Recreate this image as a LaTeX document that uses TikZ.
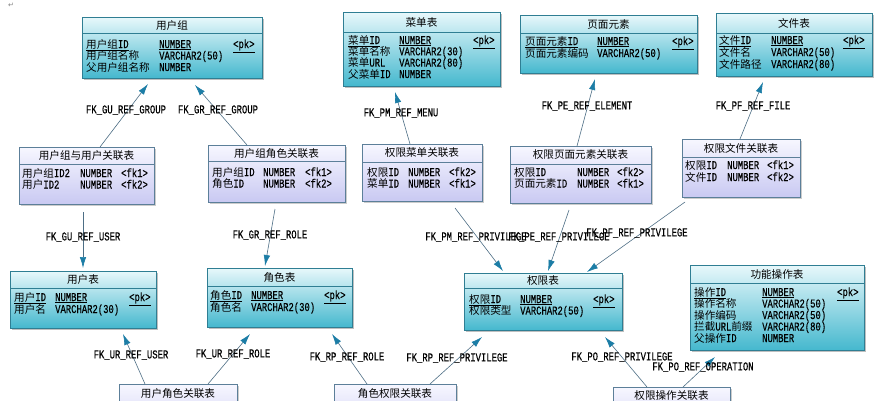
\documentclass[tikz,border=0pt]{standalone}
\usepackage{fontspec}
\setmainfont[FakeStretch=0.74,FakeBold=0.4]{Liberation Mono}
\newfontfamily\zhf[Scale=0.883]{Noto Sans CJK SC}
\newfontfamily\symf{DejaVu Sans}
\newcommand\zh[1]{{\zhf #1}}
\usetikzlibrary{arrows.meta,calc,shadows}
\definecolor{entTop}{HTML}{E8F8FB}
\definecolor{entBot}{HTML}{45B8CE}
\definecolor{entBorder}{HTML}{2F7E93}
\definecolor{ascTop}{HTML}{F7F7FF}
\definecolor{ascBot}{HTML}{C9C9F2}
\definecolor{ascBorder}{HTML}{5C7F99}
\definecolor{lineC}{HTML}{4D6E85}
\definecolor{arrowC}{HTML}{1C7DA6}
\tikzset{
  x=1pt, y=-1pt,
  ent/.style={rectangle, draw=entBorder, line width=0.8pt, top color=entTop, bottom color=entBot,
    inner sep=0pt, outer sep=0pt,
    drop shadow={shadow xshift=1.5pt, shadow yshift=-1.5pt, fill=black, opacity=0.25}},
  ent line/.style={draw=entBorder, line width=0.6pt},
  asc/.style={rectangle, draw=ascBorder, line width=0.8pt, top color=ascTop, bottom color=ascBot,
    inner sep=0pt, outer sep=0pt,
    drop shadow={shadow xshift=1.5pt, shadow yshift=-1.5pt, fill=black, opacity=0.2}},
  asc line/.style={draw=ascBorder, line width=0.6pt},
  ttl/.style={inner sep=0pt, font=\fontsize{12}{12}\selectfont\zhf},
  rowtxt/.style={inner sep=0pt, anchor=base west, font=\fontsize{12}{12}\selectfont},
  lbl/.style={inner sep=0pt, font=\fontsize{12}{12}\selectfont},
  fk/.style={draw=lineC, line width=0.6pt, -{Latex[length=11pt,width=6.5pt,color=arrowC]}},
}
% table box: style, name, x1, y1, x2, y2, header-line y
\newcommand\tbl[7]{%
  \node[#1, anchor=north west, minimum width={(#5-#3)*1pt}, minimum height={(#6-#4)*1pt}] (#2) at (#3,#4) {};
  \draw[#1 line] ($(#2.north west)+(0,#7-#4)$) -- ($(#2.north east)+(0,#7-#4)$);
}
% column widths set by \cols{w1}{w2}
\newcommand\cols[2]{\def\wa{#1pt}\def\wb{#2pt}}
% one row: name, x, baseline y, col1, col2, col3
\newcommand\trow[6]{%
  \node[rowtxt] (#1) at (#2,#3) {\makebox[\wa][l]{#4}\makebox[\wb][l]{#5}#6};
}
\begin{document}
\begin{tikzpicture}
\useasboundingbox (0,0) rectangle (885,400);
\clip (0,0) rectangle (885,400);
\fill[white] (0,0) rectangle (885,400);
\node[inner sep=0pt, font=\symf\fontsize{7}{7}\selectfont, text=gray] (ret) at (11,5) {↵};

% ---------- entity tables ----------
\tbl{ent}{ug}{82}{17}{262}{78}{33}
\node[ttl] (ugT) at (172,25) {用户组};
\cols{73}{74}
\trow{ug1}{86}{48}{\underline{\zh{用户组}ID}}{\underline{NUMBER}}{\underline{<pk>}}
\trow{ug2}{86}{59.5}{\zh{用户组名称}}{VARCHAR2(50)}{}
\trow{ug3}{86}{71}{\zh{父用户组名称}}{NUMBER}{}

\tbl{ent}{menu}{343}{12}{500}{86}{32}
\node[ttl] (menuT) at (421.5,22) {菜单表};
\cols{51}{74}
\trow{menu1}{348}{44}{\underline{\zh{菜单}ID}}{\underline{NUMBER}}{\underline{<pk>}}
\trow{menu2}{348}{55.3}{\zh{菜单名称}}{VARCHAR2(30)}{}
\trow{menu3}{348}{66.6}{\zh{菜单}URL}{VARCHAR2(80)}{}
\trow{menu4}{348}{78}{\zh{父菜单}ID}{NUMBER}{}

\tbl{ent}{elem}{520}{15}{697}{73}{33}
\node[ttl] (elemT) at (608.5,24) {页面元素};
\cols{72}{75}
\trow{elem1}{525}{45}{\underline{\zh{页面元素}ID}}{\underline{NUMBER}}{\underline{<pk>}}
\trow{elem2}{525}{57}{\zh{页面元素编码}}{VARCHAR2(50)}{}

\tbl{ent}{file}{716}{13}{872}{76}{33}
\node[ttl] (fileT) at (794,23) {文件表};
\cols{52}{72}
\trow{file1}{719}{44}{\underline{\zh{文件}ID}}{\underline{NUMBER}}{\underline{<pk>}}
\trow{file2}{719}{56}{\zh{文件名}}{VARCHAR2(50)}{}
\trow{file3}{719}{68}{\zh{文件路径}}{VARCHAR2(80)}{}

\tbl{ent}{user}{10}{271}{156}{328}{288}
\node[ttl] (userT) at (83,279.5) {用户表};
\cols{41}{74}
\trow{user1}{14}{301}{\underline{\zh{用户}ID}}{\underline{NUMBER}}{\underline{<pk>}}
\trow{user2}{14}{313}{\zh{用户名}}{VARCHAR2(30)}{}

\tbl{ent}{role}{207}{268}{352}{327}{286}
\node[ttl] (roleT) at (279.5,277) {角色表};
\cols{41}{73}
\trow{role1}{210}{299}{\underline{\zh{角色}ID}}{\underline{NUMBER}}{\underline{<pk>}}
\trow{role2}{210}{311}{\zh{角色名}}{VARCHAR2(30)}{}

\tbl{ent}{priv}{464}{273}{622}{330}{288}
\node[ttl] (privT) at (543,280.5) {权限表};
\cols{51}{73}
\trow{priv1}{469}{303}{\underline{\zh{权限}ID}}{\underline{NUMBER}}{\underline{<pk>}}
\trow{priv2}{469}{314.5}{\zh{权限类型}}{VARCHAR2(50)}{}

\tbl{ent}{op}{690}{265}{864}{350}{283}
\node[ttl] (opT) at (777,274) {功能操作表};
\cols{68}{75}
\trow{op1}{694}{296}{\underline{\zh{操作}ID}}{\underline{NUMBER}}{\underline{<pk>}}
\trow{op2}{694}{307.5}{\zh{操作名称}}{VARCHAR2(50)}{}
\trow{op3}{694}{319}{\zh{操作编码}}{VARCHAR2(50)}{}
\trow{op4}{694}{330.5}{\zh{拦截}URL\zh{前缀}}{VARCHAR2(80)}{}
\trow{op5}{694}{342}{\zh{父操作}ID}{NUMBER}{}

% ---------- association tables ----------
\tbl{asc}{pf}{682}{139}{800}{197}{157}
\node[ttl] (pfT) at (741,148) {权限文件关联表};
\cols{42}{40}
\trow{pf1}{685}{169}{\zh{权限}ID}{NUMBER}{<fk1>}
\trow{pf2}{685}{181}{\zh{文件}ID}{NUMBER}{<fk2>}

\tbl{asc}{gu}{19}{147}{154}{204}{164}
\node[ttl] (guT) at (86.5,155.5) {用户组与用户关联表};
\cols{58}{41}
\trow{gu1}{22}{177}{\zh{用户组}ID2}{NUMBER}{<fk1>}
\trow{gu2}{22}{188.5}{\zh{用户}ID2}{NUMBER}{<fk2>}

\tbl{asc}{gr}{208}{145}{345}{202}{161}
\node[ttl] (grT) at (276.5,153) {用户组角色关联表};
\cols{51}{42}
\trow{gr1}{212}{176}{\zh{用户组}ID}{NUMBER}{<fk1>}
\trow{gr2}{212}{187.5}{\zh{角色}ID}{NUMBER}{<fk2>}

\tbl{asc}{pm}{362}{144}{482}{201}{162}
\node[ttl] (pmT) at (422,153) {权限菜单关联表};
\cols{41}{41}
\trow{pm1}{367}{176}{\zh{权限}ID}{NUMBER}{<fk2>}
\trow{pm2}{367}{187.5}{\zh{菜单}ID}{NUMBER}{<fk1>}

\tbl{asc}{pe}{510}{146}{651}{203}{164}
\node[ttl] (peT) at (580.5,155) {权限页面元素关联表};
\cols{63}{40}
\trow{pe1}{514}{176}{\zh{权限}ID}{NUMBER}{<fk2>}
\trow{pe2}{514}{187.5}{\zh{页面元素}ID}{NUMBER}{<fk1>}

\tbl{asc}{ur}{119}{384}{237}{441}{402}
\node[ttl] (urT) at (178,393) {用户角色关联表};
\tbl{asc}{rp}{334}{384}{456}{441}{402}
\node[ttl] (rpT) at (395,393) {角色权限关联表};
\tbl{asc}{po}{613}{387}{730}{444}{405}
\node[ttl] (poT) at (671.5,396) {权限操作关联表};

% ---------- connectors ----------
\draw[fk] ($(gu.north west)+(81,0)$) -- ($(ug.south west)+(66,6)$);
\draw[fk] ($(gr.north west)+(39,0)$) -- ($(ug.south west)+(113,7)$);
\draw[fk] ($(gu.south west)+(64,8)$) -- ($(user.north west)+(73,-3)$);
\draw[fk] ($(gr.south west)+(67,7)$) -- ($(role.north west)+(58,-2)$);
\draw[fk] ($(pm.north west)+(48,0)$) -- ($(menu.south west)+(52,6)$);
\draw[fk] ($(pe.north west)+(67,0)$) -- ($(elem.south west)+(75,6)$);
\draw[fk] ($(pf.north west)+(58,0)$) -- ($(file.south west)+(47,6)$);
\draw[fk] ($(pm.south west)+(93,7)$) -- ($(priv.north west)+(39,-2)$);
\draw[fk] ($(pe.south west)+(59,7)$) -- ($(priv.north west)+(84,-2)$);
\draw[fk] ($(pf.south west)+(3,5)$) -- ($(priv.north west)+(123,-1)$);
\draw[fk] ($(ur.north west)+(26,0)$) -- ($(user.south west)+(113,6)$);
\draw[fk] ($(ur.north west)+(89,0)$) -- ($(role.south west)+(43,7)$);
\draw[fk] ($(rp.north west)+(33,0)$) -- ($(role.south west)+(125,7)$);
\draw[fk] ($(rp.north west)+(96,0)$) -- ($(priv.south west)+(18,7)$);
\draw[fk] ($(po.north west)+(34,0)$) -- ($(priv.south west)+(141,7)$);
\draw[fk] ($(po.north west)+(70,0)$) -- ($(op.south west)+(25,7)$);

% ---------- labels ----------
\node[lbl] (l1) at (126,110) {FK\_GU\_REF\_GROUP};
\node[lbl] (l2) at (218,110) {FK\_GR\_REF\_GROUP};
\node[lbl] (l3) at (83,237) {FK\_GU\_REF\_USER};
\node[lbl] (l4) at (270,235) {FK\_GR\_REF\_ROLE};
\node[lbl] (l5) at (401,113) {FK\_PM\_REF\_MENU};
\node[lbl] (l6) at (587,106) {FK\_PE\_REF\_ELEMENT};
\node[lbl] (l7) at (753,106) {FK\_PF\_REF\_FILE};
\node[lbl] (l8) at (476,237) {FK\_PM\_REF\_PRIVILEGE};
\node[lbl] (l9) at (559,237) {FK\_PE\_REF\_PRIVILEGE};
\node[lbl] (l10) at (637,233) {FK\_PF\_REF\_PRIVILEGE};
\node[lbl] (l11) at (131,355) {FK\_UR\_REF\_USER};
\node[lbl] (l12) at (233,354) {FK\_UR\_REF\_ROLE};
\node[lbl] (l13) at (347,357) {FK\_RP\_REF\_ROLE};
\node[lbl] (l14) at (457,358) {FK\_RP\_REF\_PRIVILEGE};
\node[lbl] (l15) at (622,357) {FK\_PO\_REF\_PRIVILEGE};
\node[lbl] (l16) at (703,367) {FK\_PO\_REF\_OPERATION};
\end{tikzpicture}
\end{document}
